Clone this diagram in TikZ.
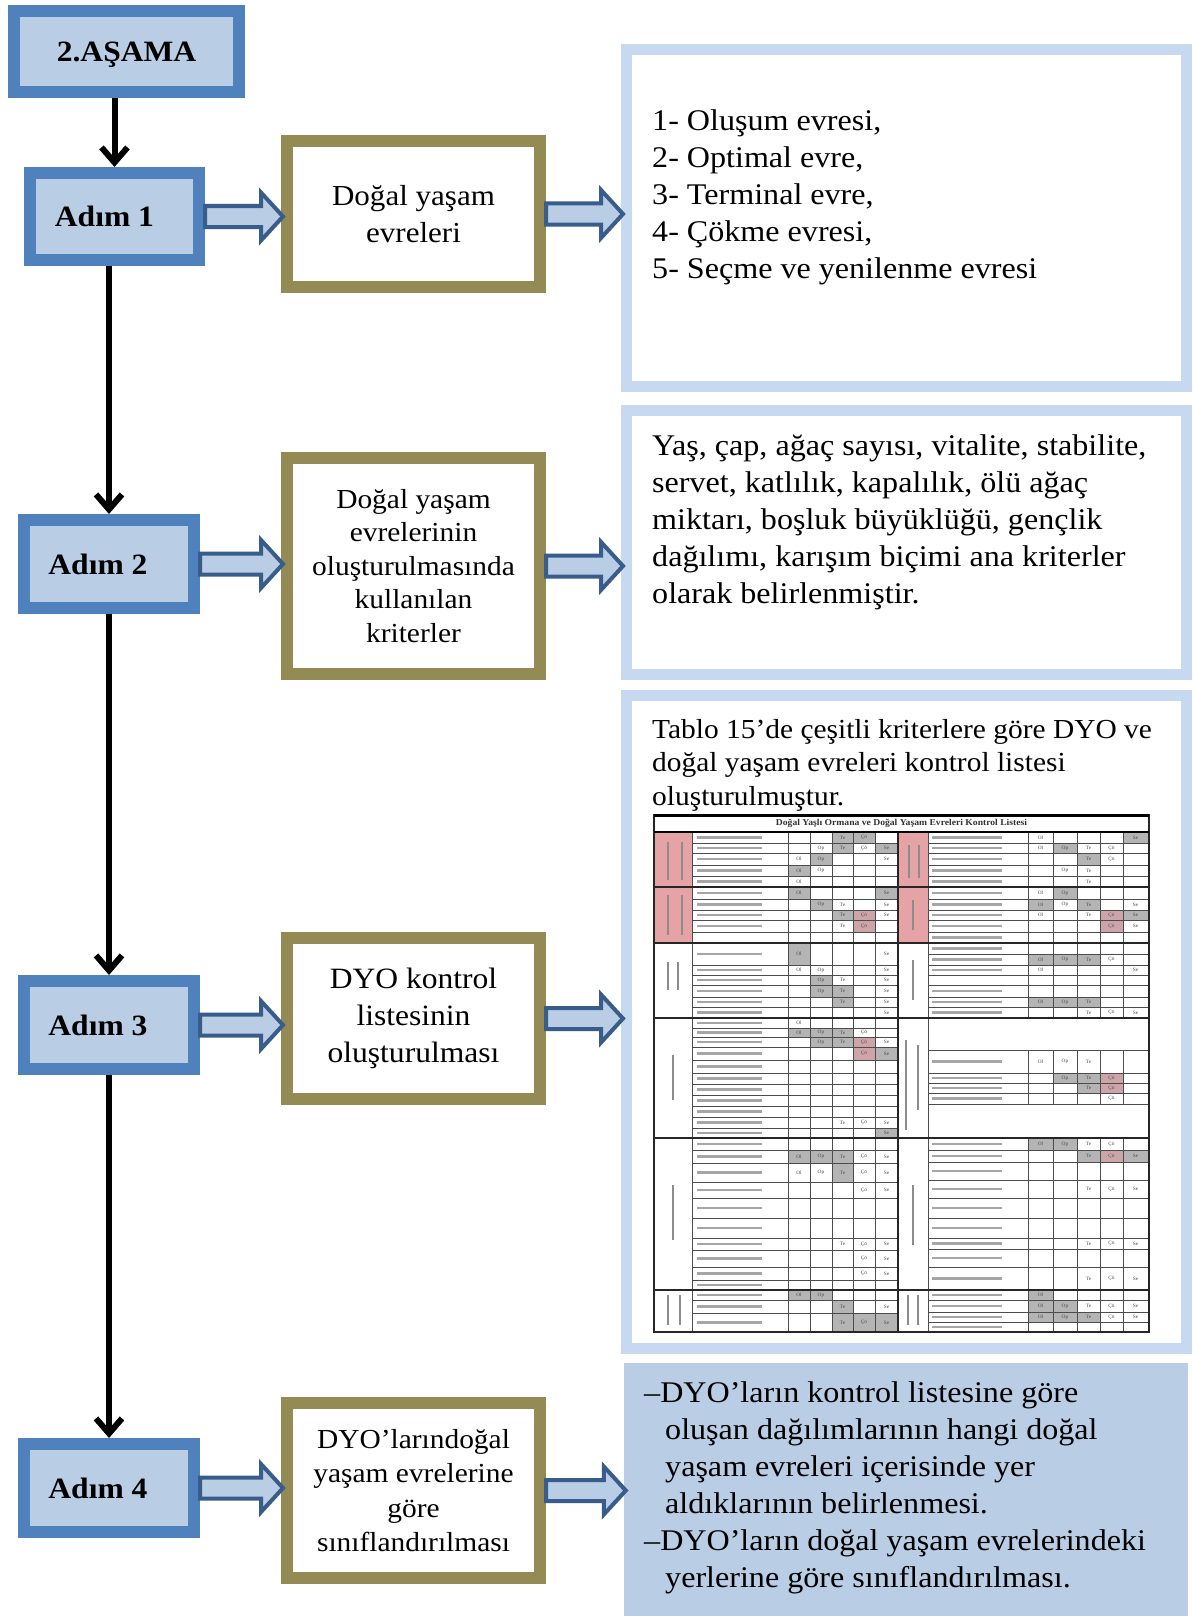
\documentclass[tikz,border=0pt]{standalone}
\usepackage{fontspec}
\setmainfont[FakeStretch=1.07]{Liberation Serif}
\usetikzlibrary{arrows.meta,calc}
\definecolor{adimfill}{HTML}{B9CDE5}
\definecolor{adimline}{HTML}{4F81BD}
\definecolor{olive}{HTML}{948A54}
\definecolor{rline}{HTML}{C6D9F1}
\definecolor{arrline}{HTML}{385D8A}
\definecolor{tpink}{HTML}{E6A3A6}
\definecolor{tgray}{HTML}{B4B4B4}
\definecolor{tpg}{HTML}{CDA5A8}
\newcounter{cc}
\newcommand\tc[5]{\stepcounter{cc}\node[tcell] (cell\thecc) at ({(#1+#3)/2},{(#2+#4)/2}) {#5};}
\newcommand\tg[5]{\fill[tgray] (#1,#2) rectangle (#3,#4);\tc{#1}{#2}{#3}{#4}{#5}}
\newcommand\tp[5]{\fill[tpg] (#1,#2) rectangle (#3,#4);\tc{#1}{#2}{#3}{#4}{#5}}
\newcommand\barrow[2]{\path[blockarr] let \p1=(#1.east), \p2=(#2.west) in
  (\x1,\y1+10.5pt) -- (\x2-20pt,\y1+10.5pt) -- (\x2-20pt,\y1+24pt) -- (\x2+2pt,\y1)
  -- (\x2-20pt,\y1-24pt) -- (\x2-20pt,\y1-10.5pt) -- (\x1,\y1-10.5pt) -- cycle;}
\tikzset{
 adim/.style={draw=adimline, fill=adimfill, line width=12pt, inner sep=0pt, text depth=0pt,
   font=\fontsize{29.5}{35}\selectfont\bfseries},
 olivebox/.style={draw=olive, fill=white, line width=12pt, inner sep=0pt,
   minimum width=253pt, align=center},
 rbox/.style={draw=rline, fill=white, line width=11pt, inner sep=0pt, minimum width=560pt},
 txt/.style={inner sep=0pt, align=left, anchor=north west},
 blockarr/.style={draw=arrline, fill=adimfill, line width=4pt, line join=miter},
 downarr/.style={line width=6pt, -{Straight Barb[length=15pt,width=26pt]}},
 tline/.style={line width=0.8pt, draw=black!70},
 tthick/.style={line width=2pt, draw=black!85},
 tcell/.style={inner sep=0pt, font=\fontsize{5}{5}\selectfont, text=black!70},
 tstrip/.style={line width=2.6pt, draw=black!35},
 vstrip/.style={line width=2pt, draw=black!45},
}
\begin{document}
\begin{tikzpicture}[x=1pt,y=-1pt]
\useasboundingbox (0,0) rectangle (1192,1616);
\fill[white] (0,0) rectangle (1192,1616);

% right panels
\node[rbox, minimum height=337pt] (r1) at (906.5,218) {};
\node[rbox, minimum height=264pt] (r2) at (906.5,542.5) {};
\node[rbox, minimum height=653pt] (r3) at (906.5,1022) {};
\node[fill=adimfill, inner sep=0pt, minimum width=564pt, minimum height=253pt] (r4) at (906,1489.5) {};

% step boxes
\node[adim, minimum width=225pt, minimum height=81pt] (a0) at (126.5,51.5) {2.AŞAMA};
\node[adim, minimum width=169pt, minimum height=87pt] (a1) at (114.5,216.5) {Adım 1\kern20pt};
\node[adim, minimum width=170pt, minimum height=88pt] (a2) at (109,564) {Adım 2\kern22pt};
\node[adim, minimum width=170pt, minimum height=88pt] (a3) at (109,1025) {Adım 3\kern22pt};
\node[adim, minimum width=170pt, minimum height=88pt] (a4) at (109,1488) {Adım 4\kern22pt};

% olive boxes
\node[olivebox, minimum height=146pt, font=\fontsize{29}{37}\selectfont] (o1) at (413.5,214) {Doğal yaşam\\evreleri};
\node[olivebox, minimum height=216pt, font=\fontsize{27.5}{33.5}\selectfont] (o2) at (413.5,566) {Doğal yaşam\\evrelerinin\\oluşturulmasında\\kullanılan\\kriterler};
\node[olivebox, minimum height=161pt, font=\fontsize{29.5}{37}\selectfont] (o3) at (413.5,1018.5) {DYO kontrol\\listesinin\\oluşturulması};
\node[olivebox, minimum height=175pt, font=\fontsize{27.5}{34.5}\selectfont] (o4) at (413.5,1490.5) {DYO’larındoğal\\yaşam evrelerine\\göre\\sınıflandırılması};

% vertical arrows
\draw[downarr] (a1.north |- a0.south) -- (a1.north);
\draw[downarr] (a2.north |- a1.south) -- (a2.north);
\draw[downarr] (a3.north |- a2.south) -- (a3.north);
\draw[downarr] (a4.north |- a3.south) -- (a4.north);

% block arrows
\barrow{a1}{o1}
\barrow{o1}{r1}
\barrow{a2}{o2}
\barrow{o2}{r2}
\barrow{a3}{o3}
\barrow{o3}{r3}
\barrow{a4}{o4}
\barrow{o4}{r4}

% texts in right panels
\node[txt, font=\fontsize{30}{37}\selectfont] (t1) at (652,109) {1- Oluşum evresi,\\2- Optimal evre,\\3- Terminal evre,\\4- Çökme evresi,\\5- Seçme ve yenilenme evresi};
\node[txt, font=\fontsize{30}{37}\selectfont] (t2) at (652,434) {Yaş, çap, ağaç sayısı, vitalite, stabilite,\\servet, katlılık, kapalılık, ölü ağaç\\miktarı, boşluk büyüklüğü, gençlik\\dağılımı, karışım biçimi ana kriterler\\olarak belirlenmiştir.};
\node[txt, font=\fontsize{27.5}{33.5}\selectfont] (t3) at (652,719) {Tablo 15’de çeşitli kriterlere göre DYO ve\\doğal yaşam evreleri kontrol listesi\\oluşturulmuştur.};
\node[txt, font=\fontsize{30}{37}\selectfont] (t4) at (644,1381) {–DYO’ların kontrol listesine göre\\\hspace*{21pt}oluşan dağılımlarının hangi doğal\\\hspace*{21pt}yaşam evreleri içerisinde yer\\\hspace*{21pt}aldıklarının belirlenmesi.\\–DYO’ların doğal yaşam evrelerindeki\\\hspace*{21pt}yerlerine göre sınıflandırılması.};

% ---- table thumbnail ----
\fill[tpink] (655,832) rectangle (692,943);
\fill[tpink] (898,832) rectangle (928,943);
% left block 1
\tg{832}{832}{853}{843}{Te} \tg{853}{832}{875}{843}{Çö}
\tc{810}{843}{832}{853}{Op} \tg{832}{843}{853}{853}{Te} \tc{853}{843}{875}{853}{Çö} \tg{875}{843}{898}{853}{Se}
\tc{788}{853}{810}{865}{Ol} \tg{810}{853}{832}{865}{Op} \tc{875}{853}{898}{865}{Se}
\tg{788}{865}{810}{876}{Ol} \tc{810}{865}{832}{876}{Op}
\tc{788}{876}{810}{887}{Ol}
% left block 2
\tg{788}{887}{810}{899}{Ol} \tg{875}{887}{898}{899}{Se}
\tg{810}{899}{832}{910}{Op} \tc{832}{899}{853}{910}{Te} \tc{875}{899}{898}{910}{Se}
\tg{832}{910}{853}{920}{Te} \tp{853}{910}{875}{920}{Çö} \tc{875}{910}{898}{920}{Se}
\tc{832}{920}{853}{932}{Te} \tp{853}{920}{875}{932}{Çö}
% left block 3
\tg{788}{943}{810}{965}{Ol} \tc{875}{943}{898}{965}{Se}
\tc{788}{965}{810}{975}{Ol} \tc{810}{965}{832}{975}{Op} \tc{875}{965}{898}{975}{Se}
\tg{810}{975}{832}{985}{Op} \tc{832}{975}{853}{985}{Te} \tc{875}{975}{898}{985}{Se}
\tg{810}{985}{832}{997}{Op} \tg{832}{985}{853}{997}{Te} \tc{875}{985}{898}{997}{Se}
\tg{832}{997}{853}{1007}{Te} \tc{875}{997}{898}{1007}{Se}
\tc{875}{1007}{898}{1018}{Se}
% left block 4
\tc{788}{1018}{810}{1028}{Ol}
\tg{788}{1028}{810}{1037}{Ol} \tg{810}{1028}{832}{1037}{Op} \tg{832}{1028}{853}{1037}{Te} \tc{853}{1028}{875}{1037}{Çö}
\tg{810}{1037}{832}{1047}{Op} \tg{832}{1037}{853}{1047}{Te} \tp{853}{1037}{875}{1047}{Çö} \tc{875}{1037}{898}{1047}{Se}
\tp{853}{1047}{875}{1060}{Çö} \tg{875}{1047}{898}{1060}{Se}
\tc{832}{1117}{853}{1128}{Te} \tc{853}{1117}{875}{1128}{Çö} \tc{875}{1117}{898}{1128}{Se}
\tg{875}{1128}{898}{1138}{Se}
% left block 5
\tg{788}{1150}{810}{1163}{Ol} \tg{810}{1150}{832}{1163}{Op} \tg{832}{1150}{853}{1163}{Te} \tc{853}{1150}{875}{1163}{Çö} \tc{875}{1150}{898}{1163}{Se}
\tc{788}{1163}{810}{1182}{Ol} \tc{810}{1163}{832}{1182}{Op} \tg{832}{1163}{853}{1182}{Te} \tc{853}{1163}{875}{1182}{Çö} \tc{875}{1163}{898}{1182}{Se}
\tc{853}{1182}{875}{1198}{Çö} \tc{875}{1182}{898}{1198}{Se}
\tc{832}{1238}{853}{1250}{Te} \tc{853}{1238}{875}{1250}{Çö} \tc{875}{1238}{898}{1250}{Se}
\tc{853}{1250}{875}{1267}{Çö} \tc{875}{1250}{898}{1267}{Se}
\tc{853}{1267}{875}{1280}{Çö} \tc{875}{1267}{898}{1280}{Se}
% left block 6
\tg{788}{1290}{810}{1300}{Ol} \tg{810}{1290}{832}{1300}{Op}
\tg{832}{1300}{853}{1313}{Te} \tc{875}{1300}{898}{1313}{Se}
\tg{832}{1313}{853}{1332}{Te} \tg{853}{1313}{875}{1332}{Çö} \tg{875}{1313}{898}{1332}{Se}
% right block A
\tc{1028}{832}{1053}{843}{Ol} \tg{1123}{832}{1148}{843}{Se}
\tc{1028}{843}{1053}{853}{Ol} \tg{1053}{843}{1077}{853}{Op} \tc{1077}{843}{1100}{853}{Te} \tc{1100}{843}{1123}{853}{Çö}
\tg{1077}{853}{1100}{865}{Te} \tc{1100}{853}{1123}{865}{Çö}
\tc{1053}{865}{1077}{876}{Op} \tc{1077}{865}{1100}{876}{Te}
\tc{1077}{876}{1100}{887}{Te}
% right block B
\tc{1028}{887}{1053}{899}{Ol} \tg{1053}{887}{1077}{899}{Op}
\tg{1028}{899}{1053}{910}{Ol} \tc{1053}{899}{1077}{910}{Op} \tg{1077}{899}{1100}{910}{Te} \tc{1123}{899}{1148}{910}{Se}
\tc{1028}{910}{1053}{920}{Ol} \tc{1077}{910}{1100}{920}{Te} \tp{1100}{910}{1123}{920}{Çö} \tg{1123}{910}{1148}{920}{Se}
\tp{1100}{920}{1123}{932}{Çö} \tc{1123}{920}{1148}{932}{Se}
% right block C
\tg{1028}{954}{1053}{965}{Ol} \tg{1053}{954}{1077}{965}{Op} \tg{1077}{954}{1100}{965}{Te} \tc{1100}{954}{1123}{965}{Çö}
\tc{1028}{965}{1053}{975}{Ol} \tc{1123}{965}{1148}{975}{Se}
\tg{1028}{997}{1053}{1007}{Ol} \tg{1053}{997}{1077}{1007}{Op} \tg{1077}{997}{1100}{1007}{Te}
\tc{1077}{1007}{1100}{1018}{Te} \tc{1100}{1007}{1123}{1018}{Çö} \tc{1123}{1007}{1148}{1018}{Se}
% right block D
\tc{1028}{1050}{1053}{1073}{Ol} \tc{1053}{1050}{1077}{1073}{Op} \tc{1077}{1050}{1100}{1073}{Te}
\tg{1053}{1073}{1077}{1083}{Op} \tg{1077}{1073}{1100}{1083}{Te} \tp{1100}{1073}{1123}{1083}{Çö}
\tg{1077}{1083}{1100}{1093}{Te} \tp{1100}{1083}{1123}{1093}{Çö}
\tc{1100}{1093}{1123}{1104}{Çö}
% right block E
\tg{1028}{1138}{1053}{1150}{Ol} \tg{1053}{1138}{1077}{1150}{Op} \tc{1077}{1138}{1100}{1150}{Te} \tc{1100}{1138}{1123}{1150}{Çö}
\tg{1077}{1150}{1100}{1162}{Te} \tp{1100}{1150}{1123}{1162}{Çö} \tg{1123}{1150}{1148}{1162}{Se}
\tc{1077}{1180}{1100}{1198}{Te} \tc{1100}{1180}{1123}{1198}{Çö} \tc{1123}{1180}{1148}{1198}{Se}
\tc{1077}{1238}{1100}{1249}{Te} \tc{1100}{1238}{1123}{1249}{Çö} \tc{1123}{1238}{1148}{1249}{Se}
\tc{1077}{1267}{1100}{1290}{Te} \tc{1100}{1267}{1123}{1290}{Çö} \tc{1123}{1267}{1148}{1290}{Se}
% right block F
\tg{1028}{1290}{1053}{1300}{Ol}
\tg{1028}{1300}{1053}{1312}{Ol} \tg{1053}{1300}{1077}{1312}{Op} \tc{1077}{1300}{1100}{1312}{Te} \tc{1100}{1300}{1123}{1312}{Çö} \tc{1123}{1300}{1148}{1312}{Se}
\tg{1028}{1312}{1053}{1322}{Ol} \tg{1053}{1312}{1077}{1322}{Op} \tg{1077}{1312}{1100}{1322}{Te} \tc{1100}{1312}{1123}{1322}{Çö} \tc{1123}{1312}{1148}{1322}{Se}

% blurred item texts
\foreach \y in {837.5,848,859,870.5,881.5,893,904.5,915,926,954,970,980,991,1002,1012.5,1023,1032.5,1042,1053.5,1066.5,1078.5,1089.5,1100.5,1111.5,1122.5,1133,1144,1156.5,1172.5,1190,1208,1228,1244,1258.5,1273.5,1285,1295,1306.5,1322.5}
  \draw[tstrip] (697,\y) -- (762,\y);
\foreach \y in {837.5,848,859,870.5,881.5,893,904.5,915,926,937.5,948.5,959.5,970,991,1002,1012.5,1061.5,1078,1088,1098.5,1144,1156,1171,1189,1208,1228,1243.5,1258,1278.5,1295,1306,1317,1327}
  \draw[tstrip] (932,\y) -- (1002,\y);
% vertical label texts
\draw[vstrip] (668,842) -- (668,880); \draw[vstrip] (682,842) -- (682,880);
\draw[vstrip] (668,895) -- (668,935); \draw[vstrip] (682,895) -- (682,935);
\draw[vstrip] (668,962) -- (668,990); \draw[vstrip] (678,962) -- (678,990);
\draw[vstrip] (673,1055) -- (673,1100);
\draw[vstrip] (673,1185) -- (673,1240);
\draw[vstrip] (668,1295) -- (668,1325); \draw[vstrip] (680,1295) -- (680,1325);
\draw[vstrip] (909,845) -- (909,878); \draw[vstrip] (919,845) -- (919,878);
\draw[vstrip] (913,900) -- (913,930);
\draw[vstrip] (913,960) -- (913,1000);
\draw[vstrip] (906,1040) -- (906,1130); \draw[vstrip] (918,1045) -- (918,1110);
\draw[vstrip] (913,1185) -- (913,1245);
\draw[vstrip] (908,1295) -- (908,1325); \draw[vstrip] (918,1295) -- (918,1325);

% grid
\foreach \y in {843,853,865,876,899,910,920,932,965,975,985,997,1007,1028,1037,1047,1060,1073,1084,1095,1106,1117,1128,1150,1163,1182,1198,1218,1238,1250,1267,1280,1300,1313}
  \draw[tline] (692,\y) -- (898,\y);
\foreach \y in {843,853,865,876,899,910,920,932,954,965,975,985,997,1007,1050,1073,1083,1093,1104,1150,1162,1180,1198,1218,1238,1249,1267,1300,1312,1322}
  \draw[tline] (928,\y) -- (1148,\y);
\foreach \x in {692,788,810,832,853,875}
  \draw[tline] (\x,832) -- (\x,1332);
\draw[tline] (928,832) -- (928,1332);
\foreach \x in {1028,1053,1077,1100,1123} {
  \draw[tline] (\x,832) -- (\x,1018);
  \draw[tline] (\x,1050) -- (\x,1104);
  \draw[tline] (\x,1138) -- (\x,1332);
}
\foreach \y in {887,943,1018,1138,1290}
  \draw[tthick] (654,\y) -- (1149,\y);
\draw[tthick] (898,832) -- (898,1332);
\draw[tthick] (654,815) rectangle (1149,1332);
\draw[line width=3pt] (654,815) -- (1149,815);
\draw[line width=1.5pt] (654,832) -- (1149,832);
\node[font=\fontsize{9}{9}\selectfont\bfseries, inner sep=0pt, text=black!80] (ttl) at (901.5,823.5) {Doğal Yaşlı Ormana ve Doğal Yaşam Evreleri Kontrol Listesi};
\end{tikzpicture}
\end{document}
